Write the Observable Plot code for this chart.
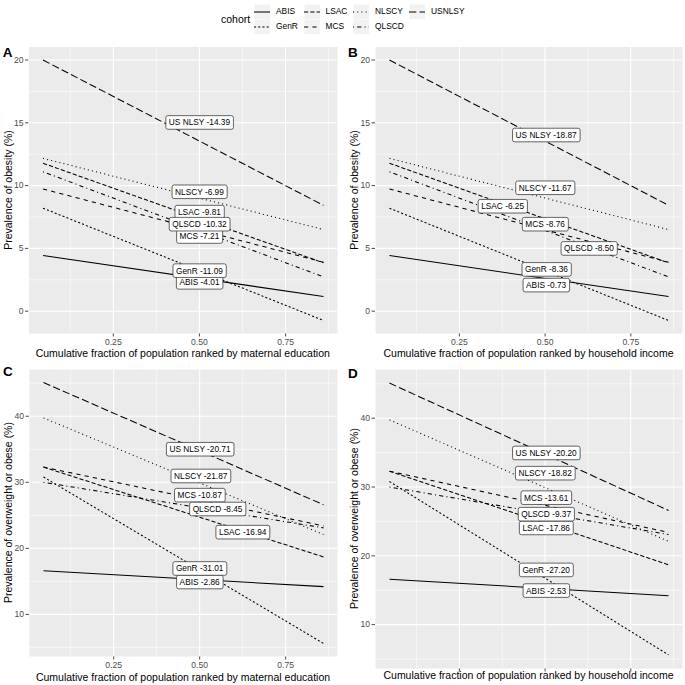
<!DOCTYPE html>
<html><head><meta charset="utf-8">
<script src="https://cdn.jsdelivr.net/npm/d3@7"></script>
<script src="https://cdn.jsdelivr.net/npm/@observablehq/plot@0.6"></script>
<style>
body{margin:0;background:#fff;font-family:"Liberation Sans",Arial,Helvetica,sans-serif;}
#root{position:relative;width:685px;height:685px;overflow:hidden;background:#fff;}
#root svg{position:absolute;}
</style></head><body><div id="root"></div>
<script>
// ---------- data ----------
const cohorts = ["ABIS","GenR","LSAC","MCS","NLSCY","QLSCD","USNLSY"];
const cohortNames = ["ABIS","GenR","LSAC","MCS","NLSCY","QLSCD","US NLSY"];
const rankEnds = [0.046, 0.86];
const obesityStart = [4.43, 8.2, 11.78, 9.73, 12.17, 11.1, 20.0];
const obesityEnd   = [1.17, -0.74, 3.85, 3.9, 6.5, 2.73, 8.43];
const overweightStart = [16.6, 30.8, 32.3, 32.3, 39.75, 30.0, 45.1];
const overweightEnd   = [14.2, 5.6, 18.7, 23.4, 22.1, 23.1, 26.6];

const siiA = [-4.01, -11.09, -9.81, -7.21, -6.99, -10.32, -14.39];
const siiB = [-0.73, -8.36, -6.25, -8.76, -11.67, -8.50, -18.87];
const siiC = [-2.86, -31.01, -16.94, -10.87, -21.87, -8.45, -20.71];
const siiD = [-2.53, -27.20, -17.86, -13.61, -18.82, -9.37, -20.20];

const labelXA = [0.50, 0.50, 0.50, 0.50, 0.50, 0.50, 0.50];
const labelYA = [2.27, 3.2, 7.86, 5.92, 9.48, 6.9, 15.0];
const labelXB = [0.503, 0.504, 0.376, 0.50, 0.50, 0.628, 0.503];
const labelYB = [2.05, 3.3, 8.33, 6.9, 9.8, 4.97, 14.0];
const labelXC = [0.50, 0.50, 0.625, 0.50, 0.503, 0.552, 0.501];
const labelYC = [14.85, 16.9, 22.4, 28.0, 30.9, 25.9, 34.95];
const labelXD = [0.503, 0.503, 0.503, 0.503, 0.50, 0.503, 0.503];
const labelYD = [14.9, 17.9, 24.0, 28.4, 31.96, 26.0, 34.9];

const rankTicks = [0.25, 0.5, 0.75];
const rankMinor = [0.125, 0.375, 0.625, 0.875];
const obesityTicks = [0, 5, 10, 15, 20];
const obesityMinor = [2.5, 7.5, 12.5, 17.5];
const overweightTicks = [10, 20, 30, 40];
const overweightMinor = [5, 15, 25, 35, 45];

const dashes = [undefined, "2.1,2.1", "4.2,2.1", "4.2,4.2", "1.05,3.15", "1.05,3.15,4.2,3.15", "7.35,3.15"];

const FONT = '"Liberation Sans",Arial,Helvetica,sans-serif';
const root = document.getElementById("root");
const NS = "http://www.w3.org/2000/svg";

function expand(vals) {
  const lo = d3.min(vals), hi = d3.max(vals), p = (hi - lo) * 0.05;
  return [lo - p, hi + p];
}

function panel(o) {
  const lines = cohorts.flatMap((c, i) => rankEnds.map((r, j) => ({cohort: c, rank: r, value: j ? o.end[i] : o.start[i]})));
  const labels = cohorts.map((c, i) => ({x: o.lx[i], y: o.ly[i], text: `${cohortNames[i]} ${o.sii[i].toFixed(2)}`}));
  const yDom = expand([...o.start, ...o.end]);
  const xDom = expand(rankEnds);
  const svg = Plot.plot({
    width: o.width, height: o.height,
    marginLeft: o.mL, marginRight: o.mR, marginTop: o.mT, marginBottom: o.mB,
    style: {fontFamily: FONT, fontSize: "8.6px", color: "#4d4d4d", background: "transparent"},
    x: {domain: xDom, ticks: rankTicks, tickFormat: o.showX ? d3.format(".2f") : () => "", tickSize: 3.5, tickPadding: 2, label: null},
    y: {domain: yDom, ticks: o.yTicks, tickFormat: d3.format("d"), tickSize: 3.5, tickPadding: 2, label: null},
    marks: [
      Plot.frame({fill: "#ebebeb", stroke: "none"}),
      Plot.ruleX(rankMinor, {stroke: "white", strokeWidth: 0.55}),
      Plot.ruleY(o.yMinor, {stroke: "white", strokeWidth: 0.55}),
      Plot.ruleX(rankTicks, {stroke: "white", strokeWidth: 1.1}),
      Plot.ruleY(o.yTicks, {stroke: "white", strokeWidth: 1.1}),
      ...cohorts.map((c, i) => Plot.line(lines.filter(d => d.cohort === c), {
        x: "rank", y: "value", stroke: "black", strokeWidth: 1.05,
        strokeDasharray: dashes[i], strokeLinecap: "butt"
      })),
      Plot.text(labels, {x: "x", y: "y", text: "text", fill: "black", fontSize: 8.3})
    ]
  });
  svg.style.left = o.left + "px";
  svg.style.top = o.top + "px";
  root.appendChild(svg);
  const texts = Array.from(svg.querySelectorAll("text")).filter(t => labels.some(l => l.text === t.textContent));
  texts.forEach(t => {
    const b = t.getBBox();
    const r = document.createElementNS(NS, "rect");
    r.setAttribute("x", b.x - 3);
    r.setAttribute("y", b.y - 1.8);
    r.setAttribute("width", b.width + 6);
    r.setAttribute("height", b.height + 3.6);
    r.setAttribute("rx", 2);
    r.setAttribute("fill", "white");
    r.setAttribute("stroke", "#333");
    r.setAttribute("stroke-width", 0.75);
    const tr = t.getAttribute("transform");
    if (tr) r.setAttribute("transform", tr);
    t.parentNode.insertBefore(r, t);
  });
}

panel({left: 0, top: 40, width: 342, height: 312, mL: 28.5, mR: 5, mT: 6.5, mB: 19,
  start: obesityStart, end: obesityEnd, sii: siiA, lx: labelXA, ly: labelYA,
  yTicks: obesityTicks, yMinor: obesityMinor, showX: true});
panel({left: 346, top: 40, width: 339, height: 312, mL: 29, mR: 3, mT: 6.5, mB: 19,
  start: obesityStart, end: obesityEnd, sii: siiB, lx: labelXB, ly: labelYB,
  yTicks: obesityTicks, yMinor: obesityMinor, showX: true});
panel({left: 0, top: 362, width: 342, height: 310, mL: 29, mR: 5, mT: 7, mB: 16,
  start: overweightStart, end: overweightEnd, sii: siiC, lx: labelXC, ly: labelYC,
  yTicks: overweightTicks, yMinor: overweightMinor, showX: true});
panel({left: 346, top: 362, width: 339, height: 310, mL: 29, mR: 3, mT: 7, mB: 4,
  start: overweightStart, end: overweightEnd, sii: siiD, lx: labelXD, ly: labelYD,
  yTicks: overweightTicks, yMinor: overweightMinor, showX: false});

// ---------- legend keys ----------
const keyLeft = [254, 303.5, 353, 409];
const keyTop = [3.5, 18.5];
cohorts.forEach((c, i) => {
  const col = Math.floor(i / 2), row = i % 2;
  const k = Plot.plot({
    width: 16, height: 15, margin: 0,
    x: {domain: [0, 1], axis: null}, y: {domain: [0, 1], axis: null},
    style: {background: "transparent"},
    marks: [
      Plot.frame({fill: "#f2f2f2", stroke: "none"}),
      Plot.ruleY([0.5], {stroke: "black", strokeWidth: 1.05, strokeDasharray: dashes[i], strokeLinecap: "butt"})
    ]
  });
  k.style.left = keyLeft[col] + "px";
  k.style.top = keyTop[row] + "px";
  root.appendChild(k);
});

// ---------- text overlay ----------
const ov = d3.select(root).append("svg").attr("width", 685).attr("height", 685)
  .style("left", "0px").style("top", "0px").style("pointer-events", "none")
  .attr("font-family", FONT);

ov.append("text").attr("x", 221).attr("y", 19).attr("dy", "0.35em").attr("font-size", 10.5).text("cohort");
cohorts.forEach((c, i) => {
  const col = Math.floor(i / 2), row = i % 2;
  ov.append("text").attr("x", keyLeft[col] + 22).attr("y", keyTop[row] + 7.5).attr("dy", "0.35em")
    .attr("font-size", 8.4).text(c);
});

const tags = [["A", 2.7, 57], ["B", 348, 57], ["C", 3, 376], ["D", 348, 378]];
tags.forEach(([t, x, y]) => ov.append("text").attr("x", x).attr("y", y).attr("font-size", 13.5).attr("font-weight", "bold").text(t));

const xTitles = [
  ["Cumulative fraction of population ranked by maternal education", 182.75, 353],
  ["Cumulative fraction of population ranked by household income", 528.5, 353],
  ["Cumulative fraction of population ranked by maternal education", 183, 677],
  ["Cumulative fraction of population ranked by household income", 528.5, 675.5]
];
xTitles.forEach(([t, x, y]) => ov.append("text").attr("x", x).attr("y", y).attr("dy", "0.35em")
  .attr("text-anchor", "middle").attr("font-size", 10.5).text(t));

const yTitles = [
  ["Prevalence of obesity (%)", 8.5, 190],
  ["Prevalence of obesity (%)", 354, 190],
  ["Prevalence of overweight or obese (%)", 8.7, 512.5],
  ["Prevalence of overweight or obese (%)", 354.5, 518.5]
];
yTitles.forEach(([t, x, y]) => ov.append("text").attr("transform", `translate(${x},${y}) rotate(-90)`)
  .attr("dy", "0.35em").attr("text-anchor", "middle").attr("font-size", 10.5).text(t));
</script>
</body></html>
